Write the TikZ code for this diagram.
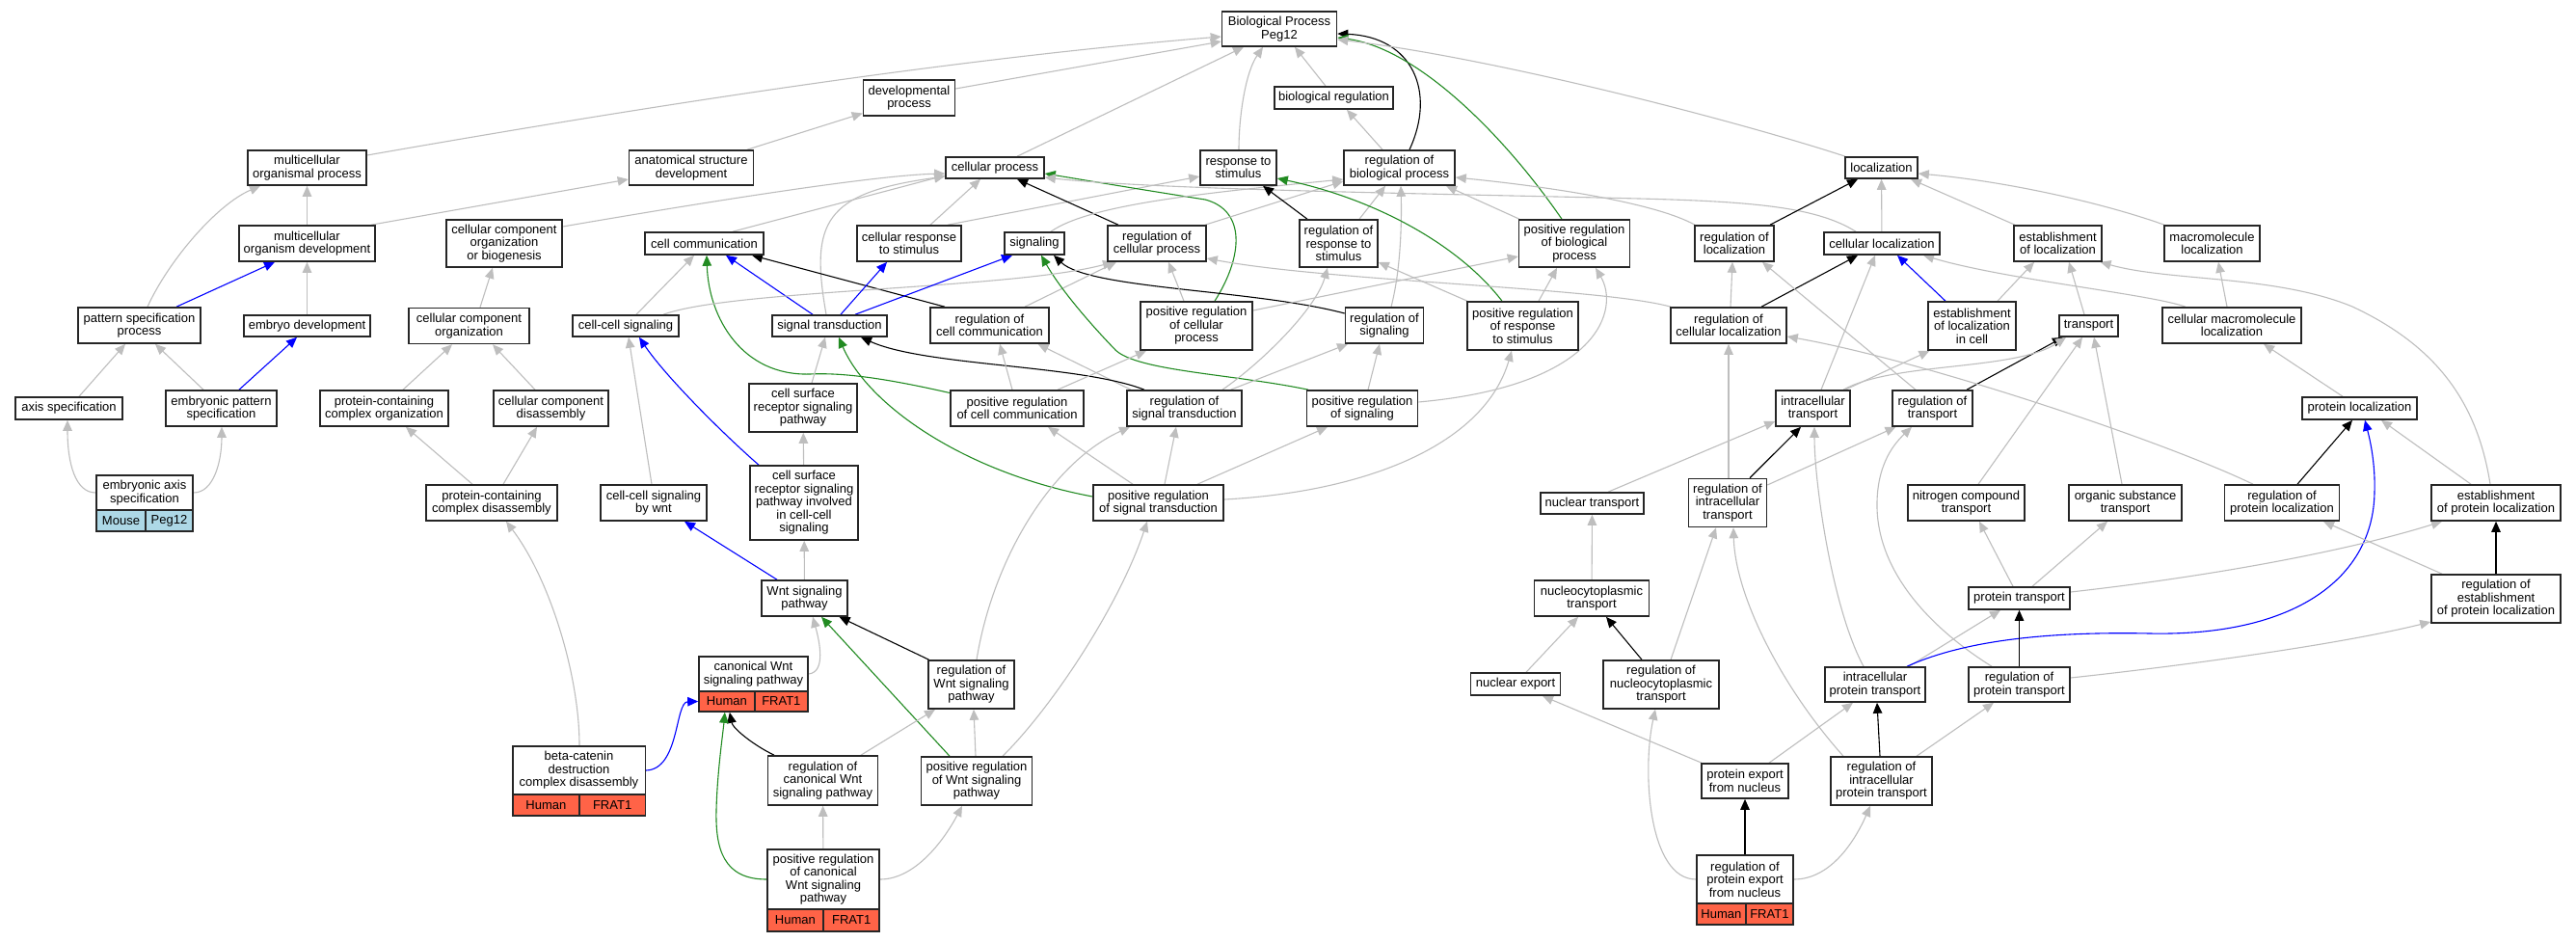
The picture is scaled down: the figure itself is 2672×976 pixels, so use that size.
\documentclass[tikz,border=0pt]{standalone}
\usepackage{fontspec}
\setmainfont{Liberation Sans}
\usetikzlibrary{arrows.meta}
\definecolor{eg}{RGB}{190,190,190}
\definecolor{gogreen}{RGB}{34,139,34}
\definecolor{tomatoc}{RGB}{255,99,71}
\definecolor{lblue}{RGB}{173,216,230}
\pgfdeclarelayer{bg}
\pgfsetlayers{bg,main}
\newcommand\gof{\fontsize{13bp}{13.5bp}\selectfont}
\begin{document}
\begin{tikzpicture}[x=1bp,y=-1bp,
  gobox/.style={draw=black!85, line width=1.6bp, fill=white, inner sep=0pt, align=center, font=\gof},
  cellh/.style={gobox, fill=tomatoc},
  cellm/.style={gobox, fill=lblue},
  edgebase/.style={line width=1.1bp, -{Triangle[length=11bp,width=9.5bp]}},
  ge/.style={edgebase, draw=eg},
  gk/.style={edgebase, draw=black},
  gb/.style={edgebase, draw=blue},
  gg/.style={edgebase, draw=gogreen}]
\useasboundingbox (0,0) rectangle (2672,976);
\begin{pgfonlayer}{bg}
\fill[white] (0,0) rectangle (2672,976);
\end{pgfonlayer}
% ---- nodes ----
\node[gobox, minimum width=119bp, minimum height=36bp] (bp) at (1327,30) {Biological Process\\Peg12};
\node[gobox, minimum width=95bp, minimum height=37bp] (dev) at (943,101.5) {developmental\\process};
\node[gobox, minimum width=123bp, minimum height=23bp] (breg) at (1383.5,101.5) {biological regulation};
\node[gobox, minimum width=123bp, minimum height=36bp] (mop) at (318.5,174) {multicellular\\organismal process};
\node[gobox, minimum width=129bp, minimum height=36bp] (asd) at (717,174) {anatomical structure\\development};
\node[gobox, minimum width=102bp, minimum height=22bp] (cp) at (1032,174) {cellular process};
\node[gobox, minimum width=79bp, minimum height=36bp] (rts) at (1284.5,174) {response to\\stimulus};
\node[gobox, minimum width=115bp, minimum height=36bp] (rbp) at (1451.5,174) {regulation of\\biological process};
\node[gobox, minimum width=75bp, minimum height=22bp] (loc) at (1951.5,174) {localization};
\node[gobox, minimum width=141bp, minimum height=37bp] (mod) at (318.5,252.5) {multicellular\\organism development};
\node[gobox, minimum width=120bp, minimum height=49bp] (ccob) at (523,252.5) {cellular component\\organization\\or biogenesis};
\node[gobox, minimum width=123bp, minimum height=23bp] (cc) at (730.5,252.5) {cell communication};
\node[gobox, minimum width=108bp, minimum height=37bp] (crs) at (943,252.5) {cellular response\\to stimulus};
\node[gobox, minimum width=62bp, minimum height=23bp] (sig) at (1073,252.5) {signaling};
\node[gobox, minimum width=102bp, minimum height=37bp] (rcp) at (1200,252.5) {regulation of\\cellular process};
\node[gobox, minimum width=81bp, minimum height=49bp] (rrs) at (1388.5,252.5) {regulation of\\response to\\stimulus};
\node[gobox, minimum width=115bp, minimum height=49bp] (prbp) at (1633,252.5) {positive regulation\\of biological\\process};
\node[gobox, minimum width=82bp, minimum height=37bp] (rloc) at (1799,252.5) {regulation of\\localization};
\node[gobox, minimum width=120bp, minimum height=23bp] (cloc) at (1952,252.5) {cellular localization};
\node[gobox, minimum width=91bp, minimum height=37bp] (eloc) at (2134.5,252.5) {establishment\\of localization};
\node[gobox, minimum width=99bp, minimum height=37bp] (mloc) at (2294.5,252.5) {macromolecule\\localization};
\node[gobox, minimum width=127bp, minimum height=37bp] (psp) at (144.5,337.5) {pattern specification\\process};
\node[gobox, minimum width=131bp, minimum height=22bp] (ed) at (318.5,338) {embryo development};
\node[gobox, minimum width=125bp, minimum height=37bp] (cco) at (486.5,338) {cellular component\\organization};
\node[gobox, minimum width=110bp, minimum height=22bp] (ccs) at (649,338) {cell-cell signaling};
\node[gobox, minimum width=119bp, minimum height=22bp] (st) at (860.5,338) {signal transduction};
\node[gobox, minimum width=123bp, minimum height=37bp] (rcc) at (1026.5,337.5) {regulation of\\cell communication};
\node[gobox, minimum width=116bp, minimum height=50bp] (prcp) at (1241,338) {positive regulation\\of cellular\\process};
\node[gobox, minimum width=81bp, minimum height=37bp] (rsig) at (1436,337.5) {regulation of\\signaling};
\node[gobox, minimum width=115bp, minimum height=50bp] (prrs) at (1579.5,338) {positive regulation\\of response\\to stimulus};
\node[gobox, minimum width=120bp, minimum height=37bp] (rcloc) at (1793,337.5) {regulation of\\cellular localization};
\node[gobox, minimum width=91bp, minimum height=50bp] (elocc) at (2045.5,338) {establishment\\of localization\\in cell};
\node[gobox, minimum width=61bp, minimum height=22bp] (tr) at (2166.5,338) {transport};
\node[gobox, minimum width=144bp, minimum height=37bp] (cmloc) at (2315,337.5) {cellular macromolecule\\localization};
\node[gobox, minimum width=111bp, minimum height=23bp] (as) at (71.5,423.5) {axis specification};
\node[gobox, minimum width=115bp, minimum height=37bp] (eps) at (229.5,423.5) {embryonic pattern\\specification};
\node[gobox, minimum width=133bp, minimum height=37bp] (pcco) at (398.5,423.5) {protein-containing\\complex organization};
\node[gobox, minimum width=119bp, minimum height=37bp] (ccd) at (571.5,423.5) {cellular component\\disassembly};
\node[gobox, minimum width=112bp, minimum height=50bp] (csrsp) at (833,423) {cell surface\\receptor signaling\\pathway};
\node[gobox, minimum width=138bp, minimum height=37bp] (prcc) at (1055,423.5) {positive regulation\\of cell communication};
\node[gobox, minimum width=119bp, minimum height=37bp] (rst) at (1228.5,423.5) {regulation of\\signal transduction};
\node[gobox, minimum width=115bp, minimum height=37bp] (prsig) at (1413,423.5) {positive regulation\\of signaling};
\node[gobox, minimum width=77bp, minimum height=37bp] (itr) at (1880.5,423.5) {intracellular\\transport};
\node[gobox, minimum width=83bp, minimum height=37bp] (rtr) at (2004.5,423.5) {regulation of\\transport};
\node[gobox, minimum width=119bp, minimum height=23bp] (ploc) at (2447.5,423.5) {protein localization};
\node[gobox, minimum width=100bp, minimum height=36bp] (eas) at (150,511) {embryonic axis\\specification};
\node[cellm, minimum width=51bp, minimum height=22bp] (easA) at (125.5,540) {Mouse};
\node[cellm, minimum width=49bp, minimum height=22bp] (easB) at (175.5,540) {Peg12};
\node[gobox, minimum width=136bp, minimum height=37bp] (pccd) at (510,521.5) {protein-containing\\complex disassembly};
\node[gobox, minimum width=110bp, minimum height=37bp] (ccsw) at (678,521.5) {cell-cell signaling\\by wnt};
\node[gobox, minimum width=112bp, minimum height=77bp] (csrspc) at (834,521.5) {cell surface\\receptor signaling\\pathway involved\\in cell-cell\\signaling};
\node[gobox, minimum width=135bp, minimum height=37bp] (prst) at (1201.5,521.5) {positive regulation\\of signal transduction};
\node[gobox, minimum width=107bp, minimum height=22bp] (ntr) at (1651.5,522) {nuclear transport};
\node[gobox, minimum width=81bp, minimum height=50bp] (rit) at (1792,521.5) {regulation of\\intracellular\\transport};
\node[gobox, minimum width=121bp, minimum height=37bp] (nct) at (2039.5,521.5) {nitrogen compound\\transport};
\node[gobox, minimum width=117bp, minimum height=37bp] (ost) at (2204.5,521.5) {organic substance\\transport};
\node[gobox, minimum width=119bp, minimum height=37bp] (rploc) at (2367,521.5) {regulation of\\protein localization};
\node[gobox, minimum width=134bp, minimum height=37bp] (eploc) at (2589,521.5) {establishment\\of protein localization};
\node[gobox, minimum width=89bp, minimum height=37bp] (wnt) at (834.5,620.5) {Wnt signaling\\pathway};
\node[gobox, minimum width=119bp, minimum height=37bp] (nctr) at (1651,620.5) {nucleocytoplasmic\\transport};
\node[gobox, minimum width=105bp, minimum height=23bp] (ptr) at (2094.5,620.5) {protein transport};
\node[gobox, minimum width=134bp, minimum height=50bp] (repl) at (2589,621) {regulation of\\establishment\\of protein localization};
\node[gobox, minimum width=113bp, minimum height=36bp] (cwnt) at (781.5,699) {canonical Wnt\\signaling pathway};
\node[cellh, minimum width=57.7bp, minimum height=21bp] (cwntA) at (753.85,727.5) {Human};
\node[cellh, minimum width=55.3bp, minimum height=21bp] (cwntB) at (810.35,727.5) {FRAT1};
\node[gobox, minimum width=89bp, minimum height=50bp] (rwnt) at (1007.5,710) {regulation of\\Wnt signaling\\pathway};
\node[gobox, minimum width=93bp, minimum height=23bp] (nex) at (1572,709.5) {nuclear export};
\node[gobox, minimum width=120bp, minimum height=50bp] (rnct) at (1723,710) {regulation of\\nucleocytoplasmic\\transport};
\node[gobox, minimum width=104bp, minimum height=36bp] (iptr) at (1945,710) {intracellular\\protein transport};
\node[gobox, minimum width=105bp, minimum height=36bp] (rptr) at (2094.5,710) {regulation of\\protein transport};
\node[gobox, minimum width=137.6bp, minimum height=50bp] (bcat) at (600.5,799) {beta-catenin\\destruction\\complex disassembly};
\node[cellh, minimum width=69.3bp, minimum height=22bp] (bcatA) at (566.35,835) {Human};
\node[cellh, minimum width=68.3bp, minimum height=22bp] (bcatB) at (635.15,835) {FRAT1};
\node[gobox, minimum width=114bp, minimum height=51bp] (rcwnt) at (853.5,809.5) {regulation of\\canonical Wnt\\signaling pathway};
\node[gobox, minimum width=115bp, minimum height=50bp] (prwnt) at (1013,810) {positive regulation\\of Wnt signaling\\pathway};
\node[gobox, minimum width=90bp, minimum height=36bp] (pefn) at (1810,810) {protein export\\from nucleus};
\node[gobox, minimum width=105bp, minimum height=50bp] (ript) at (1951.5,810) {regulation of\\intracellular\\protein transport};
\node[gobox, minimum width=116.3bp, minimum height=62bp] (prcwnt) at (854,912) {positive regulation\\of canonical\\Wnt signaling\\pathway};
\node[cellh, minimum width=58.3bp, minimum height=23bp] (prcwntA) at (824.85,954.5) {Human};
\node[cellh, minimum width=58bp, minimum height=23bp] (prcwntB) at (883.15,954.5) {FRAT1};
\node[gobox, minimum width=100bp, minimum height=50bp] (rpefn) at (1810,912) {regulation of\\protein export\\from nucleus};
\node[cellh, minimum width=50.7bp, minimum height=22bp] (rpefnA) at (1785.35,948) {Human};
\node[cellh, minimum width=49.3bp, minimum height=22bp] (rpefnB) at (1835.35,948) {FRAT1};
% ---- edges ----
\begin{pgfonlayer}{bg}
\draw[ge] ([yshift=13bp]mop.east) .. controls (700,105) and (1000,60) .. ([yshift=-8bp]bp.west);
\draw[ge] ([yshift=9.5bp]dev.east) -- ([yshift=-13bp]bp.west);
\draw[ge] ([xshift=58bp]asd.north) -- ([yshift=-16bp]dev.west);
\draw[ge] ([xshift=66.5bp]mod.north) -- ([yshift=-12bp]asd.west);
\draw[ge] (mod) -- (mop);
\draw[ge] ([xshift=8.5bp]psp.north) .. controls (175,270) and (225,212) .. ([xshift=-48.5bp]mop.south);
\draw[gb] ([xshift=38.5bp]psp.north) -- ([xshift=-33.5bp]mod.south);
\draw[ge] (ed) -- (mod);
\draw[gb] ([xshift=18.5bp]eps.north) -- ([xshift=-10.5bp]ed.south);
\draw[ge] ([xshift=-18.5bp]eps.north) -- ([xshift=16.5bp]psp.south);
\draw[ge] ([xshift=10.5bp]as.north) -- ([xshift=-14.5bp]psp.south);
\draw[ge] (eas.west) .. controls (78,511) and (70,480) .. ([xshift=-1.5bp]as.south);
\draw[ge] (eas.east) .. controls (222,511) and (230,478) .. ([xshift=0.5bp]eps.south);
\draw[ge] ([xshift=23bp]cp.north) -- ([xshift=-37bp]bp.south);
\draw[ge] ([xshift=0.5bp]rts.north) .. controls (1285,120) and (1292,75) .. ([xshift=-17bp]bp.south);
\draw[ge] ([xshift=-8.5bp]breg.north) -- ([xshift=16bp]bp.south);
\draw[ge] ([xshift=-17.5bp]rbp.north) -- ([xshift=13.5bp]breg.south);
\draw[gk] ([xshift=10.5bp]rbp.north) .. controls (1490,95) and (1465,38) .. ([yshift=-5bp]bp.east);
\draw[gg] ([xshift=-13bp]prbp.north) .. controls (1560,140) and (1470,50) .. ([yshift=-9bp]bp.east);
\draw[ge] ([xshift=-37.5bp]loc.north) .. controls (1800,125) and (1550,60) .. ([yshift=-11bp]bp.east);
\draw[ge] ([yshift=17.5bp]ccob.east) .. controls (700,215) and (900,182) .. ([yshift=-6bp]cp.west);
\draw[ge] ([xshift=29.5bp]cc.north) -- ([yshift=-8bp]cp.west);
\draw[ge] ([xshift=-3.5bp]st.north) .. controls (840,230) and (855,200) .. ([yshift=-9bp]cp.west);
\draw[ge] ([xshift=22bp]crs.north) -- ([xshift=-15bp]cp.south);
\draw[ge] ([xshift=40bp]crs.north) -- ([yshift=-9bp]rts.west);
\draw[gk] ([xshift=-40bp]rcp.north) -- ([xshift=23bp]cp.south);
\draw[gg] ([xshift=19bp]prcp.north) .. controls (1290,265) and (1292,218) .. (1250,207) .. controls (1180,196) and (1120,186) .. ([yshift=-6bp]cp.east);
\draw[ge] ([xshift=-27bp]cloc.north) .. controls (1885,215) and (1820,209) .. (1700,206) .. controls (1500,201) and (1200,197) .. ([yshift=-10bp]cp.east);
\draw[ge] ([xshift=50bp]rcp.north) -- ([yshift=-14bp]rbp.west);
\draw[ge] ([xshift=17bp]sig.north) .. controls (1130,212) and (1250,200) .. ([yshift=-12bp]rbp.west);
\draw[ge] ([xshift=21.5bp]rrs.north) -- ([xshift=-14.5bp]rbp.south);
\draw[gk] ([xshift=-32.5bp]rrs.north) -- ([xshift=25.5bp]rts.south);
\draw[ge] ([xshift=7bp]rsig.north) .. controls (1453,280) and (1454,230) .. ([xshift=1.5bp]rbp.south);
\draw[gk] ([yshift=12.5bp]rsig.west) .. controls (1300,300) and (1130,300) .. ([xshift=20bp]sig.south);
\draw[ge] ([xshift=36.5bp]rcc.north) -- ([xshift=-42bp]rcp.south);
\draw[ge] ([xshift=-13bp]prcp.north) -- ([xshift=12bp]rcp.south);
\draw[ge] ([yshift=16bp]prcp.east) -- ([yshift=-13.5bp]prbp.west);
\draw[ge] ([xshift=-57.5bp]prrs.north) -- ([yshift=-19.5bp]rrs.east);
\draw[gg] ([xshift=-21.5bp]prrs.north) .. controls (1510,250) and (1420,205) .. ([yshift=-11bp]rts.east);
\draw[ge] ([xshift=16.5bp]prrs.north) -- ([xshift=-18bp]prbp.south);
\draw[ge] ([yshift=6.5bp]prsig.east) .. controls (1660,400) and (1680,320) .. ([xshift=22bp]prbp.south);
\draw[ge] ([xshift=6bp]prsig.north) -- ([xshift=-5bp]rsig.south);
\draw[gg] ([xshift=-56bp]prsig.north) .. controls (1280,388) and (1180,385) .. (1157,363) .. controls (1130,335) and (1100,300) .. ([xshift=7bp]sig.south);
\draw[ge] ([xshift=48bp]rst.north) -- ([xshift=-38bp]rsig.south);
\draw[ge] ([xshift=39.5bp]rst.north) .. controls (1310,375) and (1365,320) .. ([xshift=-11.5bp]rrs.south);
\draw[ge] ([xshift=-55.5bp]rst.north) -- ([xshift=50bp]rcc.south);
\draw[gk] ([xshift=-41.5bp]rst.north) .. controls (1120,378) and (960,380) .. ([xshift=32.5bp]st.south);
\draw[gg] ([yshift=6.5bp]prst.west) .. controls (1000,490) and (900,420) .. ([xshift=9.5bp]st.south);
\draw[ge] ([xshift=-5bp]prcc.north) -- ([xshift=10.5bp]rcc.south);
\draw[ge] ([xshift=42bp]prcc.north) -- ([xshift=-52bp]prcp.south);
\draw[gg] ([yshift=16bp]prcc.west) .. controls (930,395) and (880,386) .. (840,388) .. controls (770,390) and (735,330) .. ([xshift=2.5bp]cc.south);
\draw[ge] ([xshift=11bp]ccs.north) -- ([xshift=-10.5bp]cc.south);
\draw[gb] ([xshift=-17.5bp]st.north) -- ([xshift=22.5bp]cc.south);
\draw[gk] ([xshift=-46.5bp]rcc.north) -- ([xshift=49.5bp]cc.south);
\draw[ge] ([xshift=39bp]ccs.north) .. controls (760,300) and (1050,300) .. ([xshift=-45bp]rcp.south);
\draw[gb] ([xshift=11.5bp]st.north) -- ([xshift=-23bp]crs.south);
\draw[gb] ([xshift=26.5bp]st.north) -- ([xshift=-23bp]sig.south);
\draw[ge] ([xshift=9bp]csrsp.north) -- ([xshift=-4.5bp]st.south);
\draw[ge] (csrspc) -- (csrsp);
\draw[gb] ([xshift=-47bp]csrspc.north) .. controls (750,450) and (690,390) .. ([xshift=14bp]ccs.south);
\draw[ge] ([xshift=-2bp]ccsw.north) -- ([xshift=3bp]ccs.south);
\draw[gb] ([xshift=-28.5bp]wnt.north) -- ([xshift=32bp]ccsw.south);
\draw[ge] (wnt) -- (csrspc);
\draw[ge] (cwnt.east) .. controls (857,697) and (850,665) .. ([xshift=8.5bp]wnt.south);
\draw[gk] ([xshift=-44bp]rwnt.north) -- ([xshift=36bp]wnt.south);
\draw[gg] ([xshift=-28bp]prwnt.north) -- ([xshift=17.5bp]wnt.south);
\draw[ge] ([xshift=-1bp]prwnt.north) -- ([xshift=2.5bp]rwnt.south);
\draw[ge] ([xshift=39.5bp]rcwnt.north) -- ([xshift=-37.5bp]rwnt.south);
\draw[gk] ([xshift=-50.5bp]rcwnt.north) .. controls (780,772) and (760,755) .. ([xshift=3bp]cwntA.south);
\draw[ge] (prcwnt) -- (rcwnt);
\draw[gg] (prcwnt.west) .. controls (750,912) and (742,880) .. (743,840) .. controls (744,800) and (750,760) .. ([xshift=-2bp]cwntA.south);
\draw[ge] (prcwnt.east) .. controls (950,912) and (980,870) .. ([xshift=-15bp]prwnt.south);
\draw[gb] (bcat.east) .. controls (705,798) and (700,728) .. (cwntA.west);
\draw[ge] ([xshift=0.5bp]bcat.north) .. controls (601,700) and (570,600) .. ([xshift=15bp]pccd.south);
\draw[ge] ([xshift=12bp]pccd.north) -- ([xshift=-14.5bp]ccd.south);
\draw[ge] ([xshift=-20bp]pccd.north) -- ([xshift=22.5bp]pcco.south);
\draw[ge] ([xshift=-16.5bp]ccd.north) -- ([xshift=24.5bp]cco.south);
\draw[ge] ([xshift=19.5bp]pcco.north) -- ([xshift=-17.5bp]cco.south);
\draw[ge] ([xshift=11.5bp]cco.north) -- ([xshift=-12bp]ccob.south);
\draw[gk] ([xshift=37bp]rloc.north) -- ([xshift=-24.5bp]loc.south);
\draw[ge] (cloc) -- (loc);
\draw[ge] ([xshift=-44.5bp]eloc.north) -- ([xshift=30.5bp]loc.south);
\draw[ge] ([xshift=-49.5bp]mloc.north) .. controls (2180,210) and (2080,188) .. ([yshift=-6bp]loc.east);
\draw[ge] ([xshift=-41bp]rloc.north) .. controls (1720,212) and (1620,195) .. ([yshift=-10bp]rbp.east);
\draw[ge] ([xshift=-57bp]prbp.north) -- ([xshift=48.5bp]rbp.south);
\draw[gk] ([xshift=34bp]rcloc.north) -- ([xshift=-25bp]cloc.south);
\draw[ge] ([xshift=2bp]rcloc.north) -- ([xshift=-2bp]rloc.south);
\draw[ge] ([xshift=-60bp]rcloc.north) .. controls (1660,298) and (1380,292) .. ([yshift=-15.5bp]rcp.east);
\draw[gb] ([xshift=-27.5bp]elocc.north) -- ([xshift=16bp]cloc.south);
\draw[ge] ([xshift=26.5bp]elocc.north) -- ([xshift=-24.5bp]eloc.south);
\draw[ge] ([xshift=8.5bp]itr.north) -- ([xshift=-7bp]cloc.south);
\draw[ge] ([xshift=-17.5bp]rtr.north) -- ([xshift=29bp]rloc.south);
\draw[ge] ([xshift=-4.5bp]tr.north) -- ([xshift=11.5bp]eloc.south);
\draw[ge] ([xshift=-48bp]cmloc.north) .. controls (2230,305) and (2080,290) .. ([xshift=43bp]cloc.south);
\draw[ge] ([xshift=-5bp]cmloc.north) -- ([xshift=6.5bp]mloc.south);
\draw[ge] ([xshift=-17.5bp]ploc.north) -- ([xshift=33bp]cmloc.south);
\draw[ge] ([xshift=-6bp]eploc.north) .. controls (2570,420) and (2530,360) .. (2440,318) .. controls (2360,285) and (2250,292) .. ([xshift=44bp]eloc.south);
\draw[ge] ([xshift=-26bp]eploc.north) -- ([xshift=22.5bp]ploc.south);
\draw[gk] ([xshift=35.5bp]rtr.north) -- ([xshift=-26.5bp]tr.south);
\draw[ge] ([xshift=31.5bp]itr.north) .. controls (1965,375) and (2090,385) .. ([xshift=-23.5bp]tr.south);
\draw[ge] ([xshift=33.5bp]itr.north) -- ([xshift=-44bp]elocc.south);
\draw[ge] ([xshift=12.5bp]nct.north) -- ([xshift=-6.5bp]tr.south);
\draw[ge] ([xshift=-3.5bp]ost.north) -- ([xshift=5.5bp]tr.south);
\draw[ge] ([xshift=-30bp]rploc.north) .. controls (2250,460) and (2000,375) .. ([yshift=-11.5bp]rcloc.east);
\draw[ge] ([xshift=1bp]rit.north) -- (rcloc.south);
\draw[gk] ([xshift=23bp]rit.north) -- ([xshift=-12.5bp]itr.south);
\draw[ge] ([yshift=18.5bp]rit.east) -- ([xshift=-38bp]rtr.south);
\draw[ge] ([xshift=16.5bp]ntr.north) -- ([yshift=-13.5bp]itr.west);
\draw[ge] ([xshift=-28.5bp]rptr.north) .. controls (2000,650) and (1945,590) .. (1947,520) .. controls (1948,480) and (1965,460) .. ([xshift=-21.5bp]rtr.south);
\draw[ge] ([xshift=-12bp]iptr.north) .. controls (1900,630) and (1882,500) .. ([xshift=1.5bp]itr.south);
\draw[ge] ([xshift=35bp]iptr.north) -- ([xshift=-19.5bp]ptr.south);
\draw[gb] ([xshift=33bp]iptr.north) .. controls (2040,663) and (2130,655) .. (2230,657) .. controls (2380,660) and (2462,600) .. (2463,510) .. controls (2464,480) and (2458,455) .. ([xshift=5.5bp]ploc.south);
\draw[gk] (rptr) -- (ptr);
\draw[ge] ([yshift=7bp]rptr.east) .. controls (2250,692) and (2420,670) .. ([yshift=-24bp]repl.west);
\draw[ge] ([yshift=6.5bp]ptr.east) .. controls (2300,597) and (2440,570) .. ([xshift=-56bp]eploc.south);
\draw[ge] ([xshift=-6.5bp]ptr.north) -- ([xshift=13.5bp]nct.south);
\draw[ge] ([xshift=13.5bp]ptr.north) -- ([xshift=-18.5bp]ost.south);
\draw[gk] ([xshift=16bp]rploc.north) -- ([xshift=-7.5bp]ploc.south);
\draw[gk] (repl) -- (eploc);
\draw[ge] ([xshift=-56bp]repl.north) -- ([xshift=43bp]rploc.south);
\draw[ge] (nctr) -- (ntr);
\draw[ge] ([xshift=11bp]nex.north) -- ([xshift=-14bp]nctr.south);
\draw[gk] ([xshift=-20bp]rnct.north) -- ([xshift=15bp]nctr.south);
\draw[ge] ([xshift=10bp]rnct.north) -- ([xshift=-12bp]rit.south);
\draw[ge] ([xshift=-45bp]pefn.north) -- ([xshift=28bp]nex.south);
\draw[ge] ([xshift=25bp]pefn.north) -- ([xshift=-23bp]iptr.south);
\draw[gk] (rpefn) -- (pefn);
\draw[ge] (rpefn.west) .. controls (1710,912) and (1703,800) .. ([xshift=-6bp]rnct.south);
\draw[ge] (rpefn.east) .. controls (1900,912) and (1925,870) .. ([xshift=-11.5bp]ript.south);
\draw[gk] ([xshift=-1.5bp]ript.north) -- ([xshift=2bp]iptr.south);
\draw[ge] ([xshift=36.5bp]ript.north) -- ([xshift=-26.5bp]rptr.south);
\draw[ge] ([xshift=-39.5bp]ript.north) .. controls (1850,715) and (1800,620) .. ([xshift=6bp]rit.south);
\draw[ge] ([xshift=5.5bp]rwnt.north) .. controls (1030,580) and (1090,480) .. ([xshift=-56.5bp]rst.south);
\draw[ge] ([xshift=27bp]prwnt.north) .. controls (1090,735) and (1160,630) .. ([xshift=-11.5bp]prst.south);
\draw[ge] ([xshift=-26.5bp]prst.north) -- ([xshift=32bp]prcc.south);
\draw[ge] ([xshift=6.5bp]prst.north) -- ([xshift=-8.5bp]rst.south);
\draw[ge] ([xshift=40.5bp]prst.north) -- ([xshift=-36bp]prsig.south);
\draw[ge] ([yshift=3.5bp]prst.east) .. controls (1420,510) and (1540,460) .. ([xshift=-11.5bp]prrs.south);
\end{pgfonlayer}
\end{tikzpicture}
\end{document}
